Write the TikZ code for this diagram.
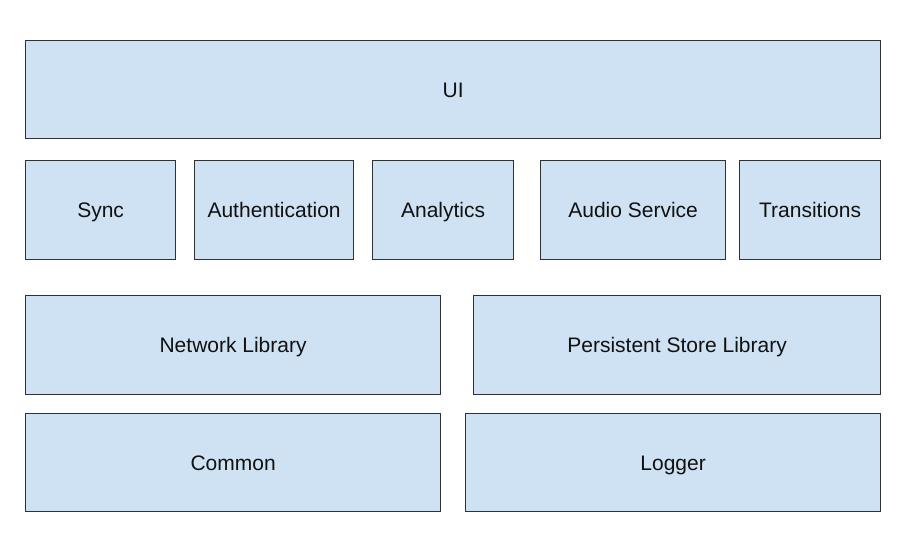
\documentclass[tikz,border=0pt]{standalone}
\usepackage{fontspec}
\setmainfont{Liberation Sans}
\definecolor{boxfill}{HTML}{CFE2F3}
\definecolor{boxline}{HTML}{2F3234}
\definecolor{txt}{HTML}{111111}
\begin{document}
\begin{tikzpicture}[x=1pt,y=-1pt,
  box/.style={draw=boxline, fill=boxfill, line width=1.2pt, rectangle, inner sep=0pt,
    text height=15pt, text depth=0pt,
    anchor=north west, font=\fontsize{21}{25}\selectfont, text=txt}]
\useasboundingbox[fill=white] (0,0) rectangle (897,538);
\node[box, minimum width=855pt, minimum height=98pt] (ui) at (25,40) {UI};
\node[box, minimum width=150pt, minimum height=99pt] (sync) at (25,160) {Sync};
\node[box, minimum width=159pt, minimum height=99pt] (auth) at (194,160) {Authentication};
\node[box, minimum width=141pt, minimum height=99pt] (analytics) at (372,160) {Analytics};
\node[box, minimum width=185pt, minimum height=99pt] (audio) at (540,160) {Audio Service};
\node[box, minimum width=141pt, minimum height=99pt] (trans) at (739,160) {Transitions};
\node[box, minimum width=415pt, minimum height=99pt] (net) at (25,295) {Network Library};
\node[box, minimum width=407pt, minimum height=99pt] (store) at (473,295) {Persistent Store Library};
\node[box, minimum width=415pt, minimum height=98pt] (common) at (25,413) {Common};
\node[box, minimum width=415pt, minimum height=98pt] (logger) at (465,413) {Logger};
\end{tikzpicture}
\end{document}
